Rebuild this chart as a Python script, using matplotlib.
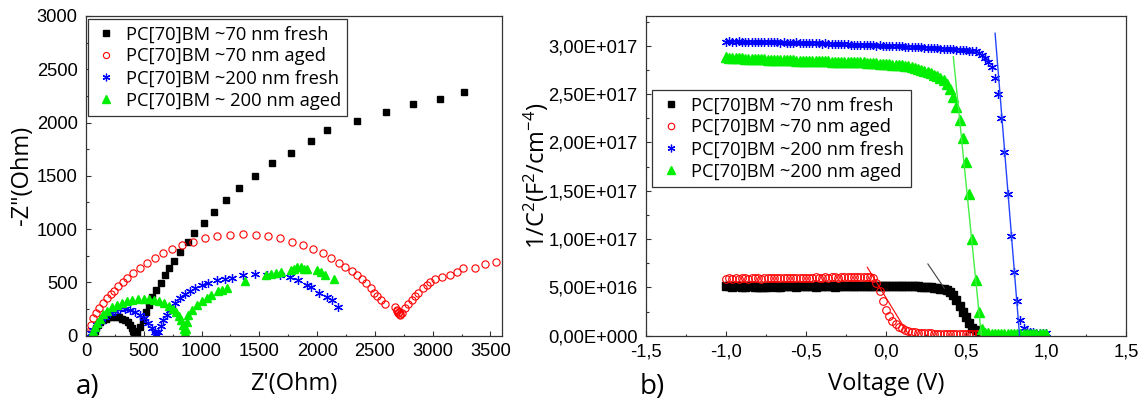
import numpy as np
import matplotlib
matplotlib.use("Agg")
import matplotlib.pyplot as plt
from matplotlib.ticker import MultipleLocator, FuncFormatter

# ---------------- a) Nyquist plots: Z' and -Z'' in Ohm ----------------
labels_a = ["PC[70]BM ~70 nm fresh", "PC[70]BM ~70 nm aged",
            "PC[70]BM ~200 nm fresh", "PC[70]BM ~ 200 nm aged"]

zre_70_fresh = [71, 76, 86, 101, 120, 143, 169, 197, 227, 257, 287, 315, 341, 364,
                383, 398, 408, 413, 418, 428, 443, 471, 494, 520, 543, 571, 609,
                646, 683, 720, 763, 814, 880, 937, 1020, 1109, 1209, 1323, 1466,
                1609, 1771, 1951, 2086, 2348, 2600, 2826, 3066, 3271]
zim_70_fresh = [16, 46, 75, 102, 126, 146, 161, 172, 177, 177, 172, 161, 146, 126,
                102, 75, 46, 16, 2, 5, 22, 84, 147, 225, 287, 366, 428,
                497, 569, 637, 703, 781, 875, 959, 1059, 1162, 1272, 1387, 1497,
                1616, 1716, 1828, 1928, 2015, 2100, 2172, 2225, 2287]

zre_70_aged = [15, 20, 41, 63, 86, 115, 144, 179, 213, 242, 279, 323, 357, 404, 467,
               525, 597, 669, 741, 828, 928, 1029, 1130, 1246, 1361, 1468, 1577,
               1678, 1779, 1880, 1967, 2047, 2117, 2191, 2240, 2298, 2347, 2385,
               2422, 2463, 2491, 2520, 2549, 2586, 2673, 2688, 2695, 2702, 2710,
               2716, 2720, 2731, 2760, 2789, 2818, 2846, 2875, 2912, 2947, 2981,
               3019, 3077, 3149, 3207, 3260, 3365, 3450, 3545]
zim_70_aged = [15, 38, 100, 163, 210, 257, 304, 351, 388, 422, 466, 507, 544, 585, 632,
               679, 726, 773, 813, 851, 882, 914, 935, 945, 951, 945, 935,
               914, 882, 851, 813, 779, 726, 685, 648, 610, 570, 532,
               492, 445, 404, 373, 335, 297, 272, 241, 230, 210, 220,
               194, 205, 216, 257, 297, 335, 373, 404, 445, 476, 507,
               529, 554, 570, 601, 632, 632, 673, 690]

zre_200_fresh = [41, 63, 93, 127, 164, 208, 251, 294, 337, 381, 424, 467, 502, 539,
                 568, 595, 605, 615, 626, 646, 669, 698, 727, 770, 813, 856, 900,
                 943, 1001, 1058, 1130, 1202, 1260, 1361, 1462, 1563, 1678, 1765,
                 1837, 1909, 1944, 2018, 2082, 2125, 2183]
zim_200_fresh = [22, 53, 100, 141, 178, 210, 232, 248, 248, 241, 225, 194, 163, 116,
                 69, 30, 12, 4, 38, 91, 147, 194, 241, 304, 351, 388, 422,
                 445, 476, 497, 523, 532, 541, 567, 579, 572, 570, 548,
                 523, 476, 454, 398, 360, 335, 272]

zre_200_aged = [63, 75, 95, 120, 150, 185, 225, 265, 310, 355, 400, 450, 500, 545,
                590, 635, 675, 715, 750, 780, 805, 825, 840, 850, 857, 860,
                865, 868, 871, 885, 914, 957, 1000, 1043, 1086, 1143, 1180, 1217,
                1380, 1560, 1600, 1640, 1690, 1770, 1800, 1830, 1860, 1890, 1910,
                2000, 2030, 2070, 2150]
zim_200_aged = [40, 80, 120, 160, 200, 235, 265, 290, 310, 325, 336, 342, 344, 342,
                335, 322, 305, 282, 255, 222, 185, 145, 105, 65, 30, 5,
                10, 60, 131, 194, 240, 290, 330, 355, 385, 415, 430, 450,
                513, 570, 580, 590, 600, 620, 630, 640, 640, 630, 625,
                615, 595, 570, 535]

# ---------------- b) Mott-Schottky: 1/C^2 (x 1e17) vs voltage ----------------
labels_b = ["PC[70]BM ~70 nm fresh", "PC[70]BM ~70 nm aged",
            "PC[70]BM ~200 nm fresh", "PC[70]BM ~200 nm aged"]

voltage = [-1.00, -0.98, -0.96, -0.94, -0.92, -0.90, -0.88, -0.86, -0.84, -0.82,
           -0.80, -0.78, -0.76, -0.74, -0.72, -0.70, -0.68, -0.66, -0.64, -0.62,
           -0.60, -0.58, -0.56, -0.54, -0.52, -0.50, -0.48, -0.46, -0.44, -0.42,
           -0.40, -0.38, -0.36, -0.34, -0.32, -0.30, -0.28, -0.26, -0.24, -0.22,
           -0.20, -0.18, -0.16, -0.14, -0.12, -0.10, -0.08, -0.06, -0.04, -0.02,
           0.00, 0.02, 0.04, 0.06, 0.08, 0.10, 0.12, 0.14, 0.16, 0.18,
           0.20, 0.22, 0.24, 0.26, 0.28, 0.30, 0.32, 0.34, 0.36, 0.38,
           0.40, 0.42, 0.44, 0.46, 0.48, 0.50, 0.52, 0.54, 0.56, 0.58,
           0.60, 0.62, 0.64, 0.66, 0.68, 0.70, 0.72, 0.74, 0.76, 0.78,
           0.80, 0.82, 0.84, 0.86, 0.88, 0.90, 0.92, 0.94, 0.96, 0.98, 1.00]

c2_70_fresh = [0.51, 0.51, 0.505, 0.51, 0.51, 0.505, 0.505, 0.51, 0.51, 0.505,
               0.505, 0.50, 0.505, 0.505, 0.51, 0.51, 0.505, 0.505, 0.51, 0.51,
               0.51, 0.51, 0.505, 0.51, 0.51, 0.515, 0.51, 0.51, 0.505, 0.51,
               0.51, 0.51, 0.515, 0.51, 0.505, 0.51, 0.51, 0.515, 0.51, 0.51,
               0.51, 0.515, 0.515, 0.51, 0.51, 0.515, 0.515, 0.51, 0.515, 0.515,
               0.515, 0.515, 0.515, 0.51, 0.515, 0.515, 0.51, 0.51, 0.51, 0.51,
               0.51, 0.505, 0.505, 0.50, 0.50, 0.495, 0.49, 0.485, 0.48, 0.47,
               0.45, 0.42, 0.37, 0.31, 0.25, 0.19, 0.13, 0.08, 0.06, 0.04]

c2_70_aged = [0.59, 0.595, 0.59, 0.595, 0.59, 0.595, 0.595, 0.59, 0.595, 0.595,
              0.595, 0.59, 0.595, 0.595, 0.60, 0.595, 0.595, 0.60, 0.595, 0.60,
              0.60, 0.595, 0.60, 0.60, 0.595, 0.60, 0.60, 0.60, 0.605, 0.60,
              0.60, 0.605, 0.60, 0.605, 0.605, 0.60, 0.605, 0.605, 0.605, 0.61,
              0.605, 0.61, 0.61, 0.605, 0.61, 0.61, 0.60, 0.55, 0.46, 0.36,
              0.27, 0.20, 0.155, 0.12, 0.095, 0.075, 0.06, 0.05, 0.04, 0.035,
              0.03, 0.03, 0.025, 0.025, 0.025, 0.02, 0.02, 0.02, 0.02, 0.02,
              0.02, 0.02, 0.02, 0.02, 0.02, 0.02, 0.02, 0.02, 0.02, 0.02]

c2_200_fresh = [3.04, 3.045, 3.04, 3.04, 3.045, 3.04, 3.04, 3.035, 3.04, 3.04,
                3.035, 3.04, 3.035, 3.035, 3.04, 3.035, 3.035, 3.03, 3.035, 3.03,
                3.03, 3.03, 3.035, 3.03, 3.03, 3.025, 3.03, 3.025, 3.025, 3.025,
                3.02, 3.025, 3.02, 3.02, 3.02, 3.015, 3.02, 3.015, 3.015, 3.01,
                3.01, 3.01, 3.01, 3.005, 3.005, 3.01, 3.005, 3.0, 3.005, 3.0,
                3.0, 3.0, 2.995, 3.0, 2.995, 2.995, 2.99, 2.99, 2.99, 2.985,
                2.985, 2.985, 2.98, 2.98, 2.98, 2.975, 2.975, 2.97, 2.97, 2.965,
                2.965, 2.965, 2.96, 2.96, 2.955, 2.955, 2.95, 2.945, 2.94, 2.925,
                2.905, 2.875, 2.835, 2.78, 2.67, 2.50, 2.25, 1.90, 1.47, 1.03,
                0.66, 0.36, 0.16, 0.08, 0.05, 0.04, 0.035, 0.03, 0.03, 0.03, 0.03]

c2_200_aged = [2.88, 2.875, 2.875, 2.87, 2.87, 2.87, 2.865, 2.865, 2.865, 2.86,
               2.86, 2.86, 2.86, 2.855, 2.855, 2.855, 2.855, 2.85, 2.85, 2.85,
               2.85, 2.85, 2.845, 2.845, 2.845, 2.845, 2.84, 2.84, 2.84, 2.84,
               2.84, 2.84, 2.84, 2.835, 2.835, 2.835, 2.835, 2.835, 2.835, 2.835,
               2.835, 2.83, 2.83, 2.83, 2.825, 2.825, 2.82, 2.82, 2.815, 2.815,
               2.81, 2.81, 2.805, 2.80, 2.80, 2.795, 2.79, 2.785, 2.78, 2.77,
               2.76, 2.75, 2.74, 2.73, 2.72, 2.70, 2.685, 2.665, 2.64, 2.60,
               2.55, 2.47, 2.37, 2.23, 2.05, 1.80, 1.47, 1.00, 0.58, 0.24,
               0.07, 0.03, 0.025, 0.02, 0.02, 0.02, 0.02, 0.02, 0.02, 0.02,
               0.02, 0.02, 0.02, 0.02, 0.02, 0.02, 0.02, 0.02, 0.02, 0.02, 0.02]

# linear fits used for the flat-band extrapolation
fit_70_fresh = ([0.262, 0.365], [0.742, 0.49])
fit_70_aged = ([-0.117, 0.143], [0.708, 0.007])
fit_200_fresh = ([0.682, 0.835], [3.128, 0.0])
fit_200_aged = ([0.421, 0.596], [2.886, 0.0])

scale = 1e17
black, red, blue, green = "#000000", "#ff0000", "#0000ff", "#00ee00"
star = (6, 2, 0)

plt.rcParams["font.family"] = "Liberation Sans"
plt.rcParams["mathtext.default"] = "regular"
label_font = dict(family="Open Sans", size=17)

fig = plt.figure(figsize=(11.48, 4.07), dpi=100)
ax1 = fig.add_axes([0.0749, 0.1752, 0.3624, 0.7855])
ax2 = fig.add_axes([0.5627, 0.1752, 0.4181, 0.7855])

# a)
ax1.plot(zre_70_fresh, zim_70_fresh, ls="none", marker="s", ms=5, color=black,
         label=labels_a[0])
ax1.plot(zre_70_aged, zim_70_aged, ls="none", marker="o", ms=5.2, mfc="none",
         mec=red, mew=0.8, label=labels_a[1])
ax1.plot(zre_200_fresh, zim_200_fresh, ls="none", marker=star, ms=6.5, color=blue,
         mew=0.9, label=labels_a[2])
ax1.plot(zre_200_aged, zim_200_aged, ls="none", marker="^", ms=6, color=green,
         label=labels_a[3])
ax1.set_xlim(0, 3600)
ax1.set_ylim(0, 3000)
ax1.xaxis.set_major_locator(MultipleLocator(500))
ax1.xaxis.set_minor_locator(MultipleLocator(250))
ax1.yaxis.set_major_locator(MultipleLocator(500))
ax1.yaxis.set_minor_locator(MultipleLocator(250))
ax1.set_xlabel("Z'(Ohm)", **label_font)
ax1.set_ylabel('-Z"(Ohm)', **label_font)
ax1.xaxis.set_label_coords(0.5, -0.115)
ax1.yaxis.set_label_coords(-0.125, 0.5)

# b)
n_black = len(c2_70_fresh)
n_red = len(c2_70_aged)
ax2.plot(voltage[:n_black], np.array(c2_70_fresh) * scale, ls="none", marker="s",
         ms=5.5, color=black, label=labels_b[0])
ax2.plot(voltage[:n_red], np.array(c2_70_aged) * scale, ls="none", marker="o",
         ms=5.5, mfc="none", mec=red, mew=0.8, label=labels_b[1])
ax2.plot(voltage, np.array(c2_200_fresh) * scale, ls="none", marker=star, ms=6.5,
         color=blue, mew=0.9, label=labels_b[2])
ax2.plot(voltage, np.array(c2_200_aged) * scale, ls="none", marker="^", ms=6.5,
         color=green, label=labels_b[3])
for (fv, fc), col, lw in [(fit_70_fresh, "#404040", 0.8), (fit_70_aged, red, 0.8),
                          (fit_200_fresh, "#2244ff", 1.0), (fit_200_aged, "#44ee44", 1.0)]:
    ax2.plot(fv, np.array(fc) * scale, color=col, lw=lw)
ax2.set_xlim(-1.5, 1.5)
ax2.set_ylim(0, 3.307e17)
ax2.xaxis.set_major_locator(MultipleLocator(0.5))
ax2.xaxis.set_minor_locator(MultipleLocator(0.25))
ax2.yaxis.set_major_locator(MultipleLocator(0.5e17))
ax2.yaxis.set_minor_locator(MultipleLocator(0.25e17))


def sci_comma(v, pos):
    if abs(v) < 1:
        m, e = 0.0, 0
    else:
        e = int(np.floor(np.log10(abs(v)) + 1e-9))
        m = v / 10 ** e
    sign = "+" if e >= 0 else "-"
    return f"{m:.2f}".replace(".", ",") + f"E{sign}{abs(e):03d}"


ax2.yaxis.set_major_formatter(FuncFormatter(sci_comma))
ax2.xaxis.set_major_formatter(FuncFormatter(lambda v, p: f"{v:.1f}".replace(".", ",")))
ax2.set_xlabel("Voltage (V)", **label_font)
ax2.set_ylabel("1/C$^{2}$(F$^{2}$/cm$^{-4}$)", **label_font)
ax2.xaxis.set_label_coords(0.5, -0.115)
ax2.yaxis.set_label_coords(-0.198, 0.5)

for ax in (ax1, ax2):
    ax.tick_params(which="both", direction="in", top=False, right=False,
                   labelsize=13.2, width=0.8, color="#333333")
    ax.tick_params(which="major", length=3.6)
    ax.tick_params(which="minor", length=1.8)
    ax.tick_params(axis="x", pad=5.5)
    ax.tick_params(axis="y", pad=6)
    for sp in ax.spines.values():
        sp.set_linewidth(0.9)
        sp.set_color("#333333")

leg_kw = dict(loc="upper left", bbox_transform=fig.transFigure, borderaxespad=0,
              frameon=True, fancybox=False, framealpha=1, edgecolor="#333333",
              prop=dict(family="Open Sans", size=13.2), borderpad=0.35,
              labelspacing=0.22, handletextpad=0.4, numpoints=1)
lg1 = ax1.legend(bbox_to_anchor=(88 / 1148, 1 - 19 / 407), handlelength=1.3,
                 markerscale=0.85, **leg_kw)
lg2 = ax2.legend(bbox_to_anchor=(652 / 1148, 1 - 90 / 407), handlelength=1.4,
                 markerscale=0.85, **leg_kw)
for lg in (lg1, lg2):
    lg.get_frame().set_linewidth(0.9)

fig.text(76 / 1148, 1 - 387 / 407, "a)", family="Open Sans", size=20, va="center")
fig.text(640 / 1148, 1 - 387 / 407, "b)", family="Open Sans", size=20, va="center")

fig.savefig("out.png", dpi=100)
